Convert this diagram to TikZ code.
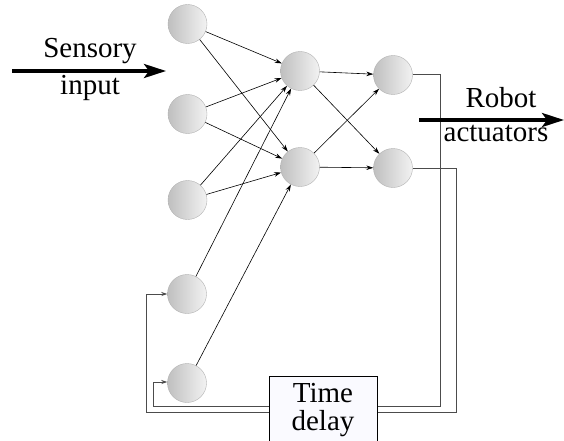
\documentclass[tikz,border=0pt]{standalone}
\usepackage{fontspec}
\setmainfont{Liberation Serif}
\usetikzlibrary{arrows.meta}
\begin{document}
\begin{tikzpicture}[x=1pt,y=-1pt,
  neuron/.style={circle,minimum size=39pt,inner sep=0pt,draw=gray!60,left color=gray!50,right color=gray!10},
  conn/.style={draw=black,line width=0.6pt,-{Stealth[length=7pt,width=4.5pt]}},
  fb/.style={draw=black!70,line width=1pt},
  fbarrow/.style={fb,-{Stealth[length=6pt,width=4pt]}},
  bigarrow/.style={line width=3.5pt,-{Stealth[length=22pt,width=14pt,inset=5pt]}},
  lbl/.style={font=\fontsize{29}{31}\selectfont,inner sep=0pt}]
\useasboundingbox (0,0) rectangle (564,441);
\begin{scope}
\clip (0,0) rectangle (564,441);
% input nodes
\node[neuron] (i1) at (187.5,24) {};
\node[neuron] (i2) at (187.5,114) {};
\node[neuron] (i3) at (187.5,200) {};
\node[neuron] (i4) at (187,294) {};
\node[neuron] (i5) at (187,383) {};
% hidden
\node[neuron] (h1) at (300,71) {};
\node[neuron] (h2) at (300,167) {};
% outputs
\node[neuron] (o1) at (393,75) {};
\node[neuron] (o2) at (393,168) {};
% connections
\foreach \s in {i1,i2,i3}{
  \draw[conn] (\s) -- (h1);
  \draw[conn] (\s) -- (h2);
}
\draw[conn] (i4) -- (h1);
\draw[conn] (i5) -- (h2);
\foreach \s in {h1,h2}{
  \draw[conn] (\s) -- (o1);
  \draw[conn] (\s) -- (o2);
}
% time delay box
\node[draw=black,line width=1pt,fill=blue!2,minimum width=108pt,minimum height=80pt,anchor=north west,inner sep=0pt] (td) at (269,376) {};
\node[lbl,align=center] (tdl) at (323,410) {Time\\[-3pt]delay};
% feedback
\coordinate (a1) at (440,75);
\coordinate (a2) at (440,406);
\coordinate (b1) at (456,168);
\coordinate (b2) at (456,412);
\draw[fb] (o1.east) -- (a1) -- (a2) -- (td.north east |- a2);
\draw[fb] (o2.east) -- (b1) -- (b2) -- (td.north east |- b2);
\coordinate (c1) at (153,406);
\coordinate (c2) at (153,382);
\coordinate (d1) at (146,412);
\coordinate (d2) at (146,294);
\draw[fbarrow] (td.north west |- c1) -- (c1) -- (c2) -- (i5.west |- c2);
\draw[fbarrow] (td.north west |- d1) -- (d1) -- (d2) -- (i4.west |- d2);
\end{scope}
% sensory input
\coordinate (s0) at (12,71);
\coordinate (s1) at (166,71);
\draw[bigarrow] (s0) -- (s1);
\node[lbl] (sl1) at (90,51) {Sensory};
\node[lbl] (sl2) at (90,88) {input};
% robot actuators
\coordinate (r0) at (419,120);
\coordinate (r1) at (564,120);
\draw[bigarrow] (r0) -- (r1);
\node[lbl] (rl1) at (501,98) {Robot};
\node[lbl] (rl2) at (496,133) {actuators};
\end{tikzpicture}
\end{document}
